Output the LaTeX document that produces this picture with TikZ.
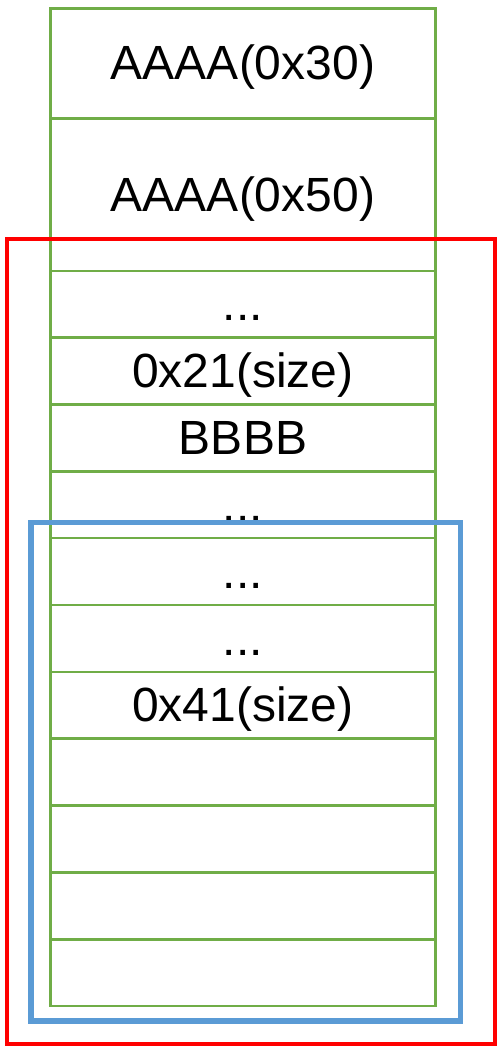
\documentclass[tikz,border=0pt]{standalone}
\usepackage{fontspec}
\setmainfont{Liberation Sans}
\definecolor{cellgreen}{HTML}{70AD47}
\definecolor{chunkblue}{HTML}{5B9BD5}
\definecolor{chunkred}{HTML}{FF0000}
\begin{document}
\begin{tikzpicture}[x=1pt,y=-1pt,
  cell/.style={draw=cellgreen, line width=2.5pt, rectangle, anchor=north,
    minimum width=385.4pt, inner sep=0pt, outer sep=0pt,
    font=\fontsize{48}{48}\selectfont, text height=43.4pt, text depth=10.2pt},
  chunk/.style={rectangle, anchor=north west, inner sep=0pt, outer sep=0pt}]
\useasboundingbox (0,0) rectangle (497,1047);
% memory cells, top to bottom
\node[cell, minimum height=110pt]   (r1)  at (243,8.3)   {AAAA(0x30)};
\node[cell, minimum height=152.7pt] (r2)  at (243,118.3) {AAAA(0x50)};
\node[cell, minimum height=66.7pt]  (r3)  at (243,271)   {...};
\node[cell, minimum height=66.7pt]  (r4)  at (243,338)   {0x21(size)};
\node[cell, minimum height=66.6pt]  (r5)  at (243,404.7) {BBBB};
\node[cell, minimum height=66.7pt]  (r6)  at (243,471.3) {...};
\node[cell, minimum height=67pt]    (r7)  at (243,538)   {...};
\node[cell, minimum height=67pt]    (r8)  at (243,605)   {...};
\node[cell, minimum height=66.7pt]  (r9)  at (243,672)   {0x41(size)};
\node[cell, minimum height=66.6pt]  (r10) at (243,738.7) {};
\node[cell, minimum height=67pt]    (r11) at (243,805.3) {};
\node[cell, minimum height=67pt]    (r12) at (243,872.3) {};
\node[cell, minimum height=66.7pt]  (r13) at (243,939.3) {};
% outer (red) and inner (blue) chunk frames
\node[chunk, draw=chunkred, line width=4pt,
  minimum width=488.5pt, minimum height=805pt] (outerchunk) at (6.5,239) {};
\node[chunk, draw=chunkblue, line width=5.5pt,
  minimum width=429.5pt, minimum height=498.9pt] (innerchunk) at (31,522.3) {};
\end{tikzpicture}
\end{document}
